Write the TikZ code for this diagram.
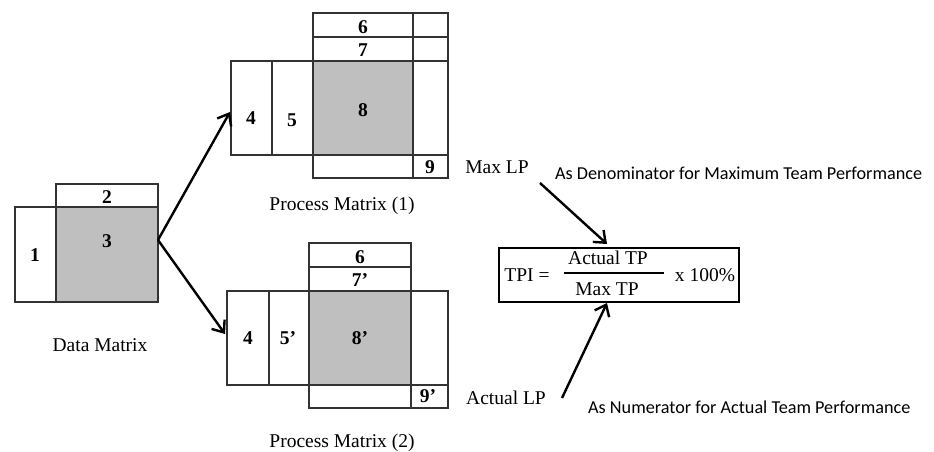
\documentclass[tikz,border=0pt]{standalone}
\usepackage{fontspec}
\setmainfont{Liberation Serif}
\newfontfamily\calibrifont{Carlito}
\usetikzlibrary{arrows.meta}

\tikzset{
  cellline/.style={draw=black!80, line width=1.1pt},
  shade/.style={cellline, fill=black!25},
  lbl/.style={inner sep=0pt, font=\fontsize{19.5}{22}\selectfont},
  num/.style={lbl, font=\fontsize{19.5}{22}\selectfont\bfseries},
  note/.style={inner sep=0pt, anchor=west, font=\fontsize{18.2}{21}\selectfont\calibrifont},
  bigarrow/.style={line width=2.4pt, -{Straight Barb[length=10pt,width=16pt]}},
}

\begin{document}
\begin{tikzpicture}[x=1pt, y=-1pt]
            \useasboundingbox (0,0) rectangle (934,452);

            % data matrix
            \def\xa{15};
            \def\xb{56};
            \def\xc{158};
            \def\ya{184};
            \def\yb{207};
            \def\yc{302};

            \filldraw[shade] (\xb, \yb) rectangle (\xc, \yc);
            \draw[cellline] (\xa, \yb) rectangle (\xb, \yc);
            \draw[cellline] (\xb, \ya) rectangle (\xc, \yb);
            \node[num](d1) at (35, 255) {1};
            \node[num](d2) at (107, 197) {2};
            \node[num](d3) at (107, 241) {3};
            \node[lbl](dm) at (100, 345) {Data Matrix};
            \coordinate(fork) at (\xc, 240);

            % process matrix (1)
            \def\xa{231};
            \def\xb{272};
            \def\xc{313};
            \def\xd{413};
            \def\xe{448};
            \def\ya{13};
            \def\yb{37};
            \def\yc{61};
            \def\yd{155};
            \def\ye{178};

            \filldraw[shade] (\xc, \yc) rectangle (\xd, \yd);
            \draw[cellline] (\xc, \ya) rectangle (\xe, \ye);
            \draw[cellline] (\xc, \yb) -- (\xe, \yb);
            \draw[cellline] (\xd, \ya) -- (\xd, \ye);
            \draw[cellline] (\xa, \yc) rectangle (\xb, \yd);
            \draw[cellline] (\xb, \yc) rectangle (\xc, \yd);
            \draw[cellline] (\xc, \yc) -- (\xe, \yc);
            \draw[cellline] (\xc, \yd) -- (\xe, \yd);
            \node[num](a6) at (363, 27) {6};
            \node[num](a7) at (363, 50) {7};
            \node[num](a8) at (363, 110) {8};
            \node[num](a4) at (251, 118) {4};
            \node[num](a5) at (292, 120) {5};
            \node[num](a9) at (430, 167) {9};
            \node[lbl](pm1) at (342, 206) {Process Matrix (1)};

            % process matrix (2)
            \def\xa{227};
            \def\xb{269};
            \def\xc{309};
            \def\xd{411};
            \def\xe{448};
            \def\ya{243};
            \def\yb{267};
            \def\yc{291};
            \def\yd{385};
            \def\ye{408};

            \filldraw[shade] (\xc, \yc) rectangle (\xd, \yd);
            \draw[cellline] (\xc, \ya) rectangle (\xd, \yc);
            \draw[cellline] (\xc, \yb) -- (\xd, \yb);
            \draw[cellline] (\xa, \yc) rectangle (\xe, \yd);
            \draw[cellline] (\xb, \yc) -- (\xb, \yd);
            \draw[cellline] (\xc, \yc) -- (\xc, \yd);
            \draw[cellline] (\xd, \yc) -- (\xd, \ye);
            \draw[cellline] (\xc, \yd) rectangle (\xe, \ye);
            \node[num](b6) at (360, 257) {6};
            \node[num](b7) at (360, 280) {7’};
            \node[num](b8) at (360, 338) {8’};
            \node[num](b4) at (248, 338) {4};
            \node[num](b5) at (288, 338) {5’};
            \node[num](b9) at (428, 396) {9’};
            \node[lbl](pm2) at (342, 443) {Process Matrix (2)};

            \coordinate(in1) at (230, 112);
            \coordinate(in2) at (225, 334);
            \draw[bigarrow] (fork) -- (in1);
            \draw[bigarrow] (fork) -- (in2);

            % formula
            \node[draw, line width=2pt, minimum width=240, minimum height=54](tpi) at (619, 275) {};
            \node[lbl](lhs) at (527, 275) {TPI =};
            \node[lbl](top) at (608, 258) {Actual TP};
            \node[lbl](bot) at (607, 289) {Max TP};
            \node[lbl](pct) at (705, 275) {x 100\%};
            \draw[line width=1.5pt] (564, 273) -- (664, 273);

            \node[lbl](maxlp) at (497, 167) {Max LP};
            \node[lbl](actlp) at (506, 398) {Actual LP};
            \node[note](den) at (555, 173) {As Denominator for Maximum Team Performance};
            \node[note](nom) at (588, 407) {As Numerator for Actual Team Performance};

            \coordinate(s1) at (540, 183);
            \coordinate(s2) at (562, 398);
            \draw[bigarrow] (s1) -- (607, 244);
            \draw[bigarrow] (s2) -- (607, 303);
\end{tikzpicture}
\end{document}
